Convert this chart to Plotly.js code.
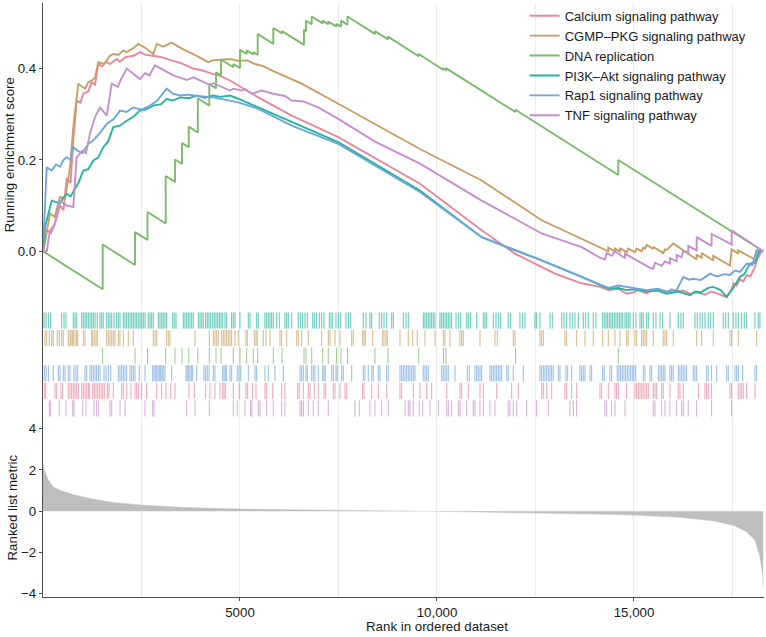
<!DOCTYPE html>
<html>
<head>
<meta charset="utf-8">
<script src="https://cdn.plot.ly/plotly-3.0.1.min.js"></script>
<style>html,body{margin:0;padding:0;background:#fff;}#chart{width:766px;height:637px;}</style>
</head>
<body>
<div id="chart"></div>
<script>
// ---------------- DATA ----------------
const pathways = ['Calcium signaling pathway', 'CGMP\u2013PKG signaling pathway', 'DNA replication',
  'PI3K\u2013Akt signaling pathway', 'Rap1 signaling pathway', 'TNF signaling pathway'];

// running enrichment score: [rank, score]
const calciumES = [[0,0],[51,0.02],[94,0.046],[200,0.04],[300,0.06],[431,0.10],[520,0.09],[601,0.16],[700,0.15],[769,0.243],[855,0.33],[950,0.325],[1023,0.345],[1150,0.35],[1236,0.37],[1320,0.365],[1404,0.41],[1500,0.405],[1600,0.415],[1700,0.41],[1870,0.421],[1950,0.415],[2100,0.425],[2300,0.428],[2462,0.436],[2600,0.43],[2792,0.428],[3000,0.425],[3307,0.417],[3500,0.412],[3815,0.40],[4000,0.397],[4322,0.388],[4500,0.384],[4746,0.374],[5043,0.359],[5464,0.337],[6312,0.297],[7495,0.25],[9568,0.148],[11134,0.046],[11979,-0.005],[12995,-0.049],[13672,-0.07],[14137,-0.078],[14348,-0.085],[14600,-0.082],[14814,-0.093],[15000,-0.09],[15100,-0.085],[15322,-0.092],[15450,-0.085],[15600,-0.086],[15830,-0.09],[15950,-0.083],[16083,-0.088],[16250,-0.086],[16421,-0.093],[16600,-0.09],[16800,-0.095],[16971,-0.088],[17100,-0.092],[17352,-0.1],[17479,-0.083],[17520,-0.07],[17600,-0.075],[17690,-0.062],[17774,-0.066],[17860,-0.052],[17950,-0.055],[18070,-0.035],[18114,-0.02],[18241,0.0],[18280,0]];
const cgmpES = [[0,0],[51,0.02],[178,0.083],[300,0.075],[431,0.119],[560,0.115],[685,0.184],[769,0.272],[896,0.367],[1066,0.356],[1150,0.37],[1236,0.374],[1320,0.38],[1404,0.414],[1550,0.41],[1700,0.428],[1784,0.432],[1911,0.43],[2038,0.44],[2124,0.436],[2300,0.445],[2419,0.454],[2600,0.445],[2799,0.432],[2886,0.454],[3050,0.448],[3266,0.457],[3500,0.445],[3901,0.428],[4195,0.414],[4300,0.418],[4500,0.42],[4746,0.421],[4957,0.417],[5181,0.418],[5381,0.41],[5600,0.405],[5804,0.396],[6566,0.367],[7495,0.323],[9568,0.224],[11134,0.155],[12657,0.068],[14348,0.0],[14348,0.008],[14517,0.0],[14517,0.006],[14644,0.0],[14644,0.007],[14814,-0.002],[14855,0.006],[15025,-0.002],[15068,0.006],[15195,0.0],[15236,0.008],[15279,0.006],[15322,0.014],[15489,0.005],[15489,0.01],[15743,-0.004],[15786,0.004],[15830,0.003],[15997,0.017],[16591,-0.018],[16591,-0.008],[16718,-0.014],[16718,-0.004],[17012,-0.02],[17012,-0.01],[17436,-0.031],[17479,0.004],[17647,-0.005],[17647,0.002],[18114,-0.02],[18114,0.0],[18280,0]];
const dnaES = [[0,0],[1515,-0.083],[1515,0.015],[2335,-0.030],[2335,0.042],[2652,0.025],[2652,0.086],[3114,0.061],[3114,0.165],[3350,0.152],[3350,0.201],[3528,0.191],[3528,0.237],[3700,0.228],[3700,0.273],[3929,0.260],[3929,0.335],[4221,0.319],[4221,0.366],[4391,0.357],[4391,0.392],[4518,0.385],[4518,0.420],[4830,0.403],[4830,0.410],[5000,0.401],[5000,0.441],[5170,0.432],[5170,0.440],[5337,0.431],[5337,0.436],[5449,0.430],[5449,0.476],[5845,0.454],[5845,0.489],[6066,0.477],[6066,0.482],[6624,0.452],[6624,0.485],[6675,0.482],[6675,0.505],[6820,0.497],[6820,0.514],[7099,0.499],[7099,0.505],[7241,0.497],[7241,0.503],[7449,0.492],[7449,0.498],[7563,0.492],[7563,0.505],[7728,0.496],[7728,0.514],[8426,0.476],[8426,0.482],[8756,0.464],[8756,0.470],[9535,0.427],[9535,0.432],[10165,0.397],[10165,0.400],[10228,0.397],[10228,0.401],[11992,0.305],[11992,0.310],[14601,0.167],[14601,0.200],[18280,0]];
const pi3kES = [[0,0],[51,0.053],[221,0.111],[431,0.105],[520,0.118],[601,0.126],[700,0.12],[769,0.13],[900,0.15],[1023,0.177],[1150,0.18],[1277,0.199],[1400,0.205],[1530,0.228],[1650,0.24],[1784,0.272],[1950,0.275],[2124,0.286],[2300,0.295],[2462,0.308],[2600,0.31],[2799,0.319],[3000,0.322],[3139,0.334],[3300,0.33],[3477,0.337],[3700,0.335],[3901,0.341],[4100,0.336],[4322,0.341],[4500,0.338],[4746,0.341],[4957,0.334],[5464,0.315],[6312,0.283],[7495,0.239],[9568,0.133],[11134,0.031],[12657,-0.02],[13672,-0.056],[14348,-0.082],[14600,-0.08],[14800,-0.085],[15050,-0.083],[15322,-0.088],[15600,-0.086],[15830,-0.093],[16124,-0.088],[16421,-0.096],[16550,-0.088],[16700,-0.09],[16885,-0.08],[17012,-0.078],[17200,-0.085],[17352,-0.1],[17520,-0.08],[17690,-0.056],[17800,-0.05],[17944,-0.027],[18070,-0.025],[18197,0.002],[18280,0]];
const rap1ES = [[0,0],[94,0.184],[221,0.177],[330,0.19],[431,0.185],[520,0.2],[601,0.206],[700,0.2],[769,0.228],[880,0.22],[1000,0.215],[1150,0.235],[1277,0.243],[1450,0.26],[1617,0.279],[1800,0.29],[1954,0.308],[2120,0.305],[2292,0.315],[2500,0.31],[2700,0.318],[2900,0.33],[3139,0.356],[3300,0.345],[3477,0.341],[3700,0.343],[3901,0.34],[4100,0.338],[4322,0.337],[4746,0.33],[4957,0.326],[5464,0.312],[6312,0.275],[7495,0.235],[9568,0.13],[11134,0.031],[12657,-0.02],[13672,-0.056],[14348,-0.08],[14600,-0.075],[14814,-0.078],[15050,-0.08],[15322,-0.085],[15600,-0.082],[15830,-0.088],[16083,-0.085],[16251,-0.056],[16400,-0.062],[16500,-0.06],[16700,-0.063],[16929,-0.049],[17100,-0.055],[17300,-0.05],[17436,-0.052],[17563,-0.042],[17690,-0.045],[17860,-0.027],[18000,-0.03],[18114,0.002],[18280,0]];
const tnfES = [[0,0],[94,0.0],[178,0.046],[300,0.06],[431,0.111],[600,0.10],[769,0.097],[855,0.206],[1000,0.22],[1091,0.215],[1200,0.26],[1320,0.294],[1447,0.315],[1617,0.297],[1744,0.367],[1900,0.36],[1954,0.372],[2124,0.40],[2462,0.377],[2589,0.39],[2700,0.385],[2843,0.407],[3307,0.385],[3647,0.375],[3815,0.381],[4221,0.365],[4322,0.368],[4746,0.352],[4830,0.356],[5043,0.352],[5127,0.355],[5300,0.345],[5551,0.352],[5845,0.345],[6142,0.34],[6312,0.33],[6607,0.328],[6987,0.315],[7495,0.29],[8426,0.24],[9568,0.192],[11134,0.111],[12657,0.039],[13672,0.009],[14137,-0.014],[14264,-0.018],[14307,-0.004],[14434,-0.01],[14517,0.0],[14772,-0.015],[14772,-0.005],[15406,-0.036],[15489,-0.038],[15533,-0.025],[15703,-0.032],[15786,-0.022],[15913,-0.027],[15913,-0.015],[16083,-0.022],[16083,-0.008],[16210,-0.013],[16251,0.002],[16378,-0.003],[16378,0.012],[16591,0.002],[16591,0.031],[16971,0.012],[16971,0.038],[17479,0.015],[17479,0.046],[18280,0]];

// gene-set hit positions (rank)
const pi3kHits = [25,76,135,195,475,533,584,769,812,855,982,1023,1066,1109,1150,1193,1236,1277,1320,1378,1447,1490,1530,1617,1657,1700,1744,1802,1870,1911,1954,2038,2081,2124,2165,2208,2251,2292,2335,2378,2419,2462,2505,2546,2589,2672,2716,2759,2799,2926,2969,3013,3053,3096,3139,3292,3332,3376,3561,3604,3647,3688,3731,3774,3815,3942,3985,4028,4068,4129,4170,4213,4256,4307,4348,4391,4434,4475,4518,4561,4619,4662,4789,4830,4873,5000,5211,5254,5424,5464,5634,5677,5718,5761,5804,5845,5931,5997,6142,6185,6226,6312,6480,6540,6591,6650,6708,6845,6886,6946,7013,7073,7132,7266,7309,7353,7436,7495,7556,7690,7749,7810,8129,8198,8299,8343,8535,8596,8655,8723,8850,8891,9145,9213,9271,9652,9695,9738,9779,9822,9865,9906,9949,10076,10119,10160,10203,10246,10287,10330,10373,10482,10541,10601,10754,10795,10855,11007,11175,11218,11261,11429,11497,11556,11616,11809,11870,12106,12175,12233,12487,12530,12614,12868,12926,13165,13223,13291,13375,13434,13502,13586,13713,13774,13840,13966,14035,14205,14246,14289,14332,14373,14416,14459,14500,14543,14586,14627,14670,14713,14772,14814,14855,14898,14982,15050,15152,15195,15236,15322,15363,15489,15558,15660,15728,15913,16124,16192,16251,16548,16607,16675,16733,16802,16885,16946,17012,17266,17327,17393,17520,17588,17647,17733,17799,17860,18070,18154,18197];
const cgmpHits = [51,94,160,221,261,363,414,475,515,642,685,711,744,769,812,855,881,1023,1066,1236,1261,1302,1345,1378,1617,1657,1700,1744,1784,1827,1911,1954,2038,2165,2292,2799,2843,2886,3139,3180,3223,3858,4221,4322,4365,4409,4449,4535,4576,4619,4662,4703,4746,4789,4873,4957,5152,5185,5363,5406,5439,5591,5660,5761,6015,6058,6185,6439,6480,6566,6733,7073,7241,7284,7411,7538,7835,7876,8114,8147,8180,8368,8622,8655,8705,8738,9061,9271,9383,9500,9695,9949,10160,10203,10330,10584,10627,10667,11091,11472,11530,11936,11979,12614,12657,12698,13248,13291,13545,13756,13966,14205,14348,14517,14644,14814,14855,15025,15068,15195,15236,15279,15322,15489,15743,15786,15830,15997,16591,16718,17012,17436,17479,17647,18114];
const dnaHits = [1515,2335,2652,3114,3350,3528,3700,3929,4221,4391,4518,4830,5000,5170,5337,5449,5845,6066,6624,6675,6820,7099,7241,7449,7563,7728,8426,8756,9535,10165,10228,11992,14601];
const rap1Hits = [33,76,135,261,388,431,515,558,642,685,787,838,881,1066,1109,1193,1236,1277,1320,1363,1404,1447,1548,1599,1657,1718,1911,1954,1997,2038,2081,2124,2208,2251,2292,2335,2444,2589,2784,2817,2850,2886,2919,2952,2987,3020,3053,3096,3266,3629,3662,3698,3731,3764,3799,3901,4086,4129,4170,4213,4322,4365,4561,4594,4627,4662,4746,4789,4931,4974,5018,5211,5381,5424,5634,5718,5888,6099,6523,6566,6607,6675,6708,6820,6860,6903,6987,7099,7132,7165,7327,7368,7436,7469,7581,7622,7835,8129,8172,8256,8343,8383,8510,8553,8723,8764,9061,9104,9145,9188,9231,9271,9314,9357,9398,9441,9652,9695,9738,9779,10119,10160,10203,10246,10287,10457,10769,10820,10964,11007,11048,11091,11134,11345,11388,11429,11472,11515,11556,11599,11642,11769,11809,11936,12190,12614,12657,12698,12741,12784,12825,12868,12911,12952,13078,13121,13274,13317,13418,13629,13672,13713,13756,13883,13926,14205,14246,14390,14434,14576,14619,14662,14703,14746,14789,14830,14873,14916,14956,14999,15043,15236,15279,15406,15449,15617,15660,15703,15743,15786,15913,15956,15997,16124,16167,16210,16251,16294,16337,16505,16548,16591,16845,16885,16971,17099,17352,17393,17563,17606,17647,17758,18070,18114];
const calciumHits = [33,69,305,348,457,500,642,685,728,769,812,855,896,982,1023,1066,1109,1150,1175,1261,1302,1345,1388,1429,1472,1515,1556,1632,1675,1784,1997,2038,2124,2233,2335,2378,2419,2505,2632,2886,3013,3122,3241,3350,3705,3840,4129,4238,4365,4492,4561,4594,4627,4830,4982,5152,5195,5322,5406,5634,5677,5830,6058,6142,6464,6505,6607,6733,6776,6886,6987,7132,7175,7368,7411,7538,7665,7708,8114,8147,8343,8510,8723,9061,9104,9398,9568,9738,9865,10246,10584,10627,10795,11091,11175,11515,11896,12063,12657,12698,12784,12911,13248,13291,13418,13545,14137,14180,14348,14517,14560,14601,14814,15025,15068,15109,15152,15195,15236,15279,15322,15363,15489,15533,15576,15703,15743,15913,16124,16167,16251,16632,16802,16845,16885,16971,17436,17479,17647,17690,17733,17774,17860,18070];
const tnfHits = [160,195,414,584,754,787,1008,1091,1294,1363,1404,1700,1744,1954,2081,2589,2784,2817,3647,3858,4221,4830,4931,5127,5271,5304,5464,5508,5677,5845,6058,6142,6523,6566,6607,6733,6860,6987,7241,7919,8028,8299,8426,8596,8764,9188,9271,9314,9398,9550,9637,9822,10033,10246,10287,10373,10541,10584,10754,10921,10964,11091,11175,11345,11472,11809,11852,11936,12023,12276,12530,12825,13375,13459,13545,14264,14307,14434,14517,14772,15489,15533,15703,15786,15913,16083,16210,16251,16378,16591,16971,17479];

// ranked list metric: [rank, value]
const metric = [[0,2.3],[20,2.07],[135,1.5],[261,1.17],[431,1.01],[769,0.8],[1277,0.58],[1784,0.42],[2546,0.29],[3561,0.18],[5000,0.1],[6523,0.05],[7538,0.03],[8500,0.015],[9300,0.006],[9350,0],[9900,0],[9950,-0.01],[11000,-0.04],[12530,-0.08],[14000,-0.14],[14982,-0.19],[16167,-0.3],[17012,-0.47],[17520,-0.68],[17860,-1.0],[18070,-1.4],[18197,-2.2],[18264,-3.0],[18280,-3.65]];

const xTickVals = [5000, 10000, 15000];
const xTickText = ['5000', '10,000', '15,000'];
const xMinorVals = [2500, 7500, 12500, 17500];
const xTitle = 'Rank in ordered dataset';

// ---------------- STYLE ----------------
const colors = ['#E8879C', '#C6A061', '#7CB96A', '#27B5A0', '#6EA6DB', '#C490CB'];
const esSeries = [calciumES, cgmpES, dnaES, pi3kES, rap1ES, tnfES];
const hitSeries = [calciumHits, cgmpHits, dnaHits, pi3kHits, rap1Hits, tnfHits];
// row order in the hit panel, top to bottom (index into pathways)
const rowOrder = [3, 1, 2, 4, 0, 5];

const traces = [];
esSeries.forEach((s, i) => {
  traces.push({
    type: 'scatter', mode: 'lines', name: pathways[i],
    x: s.map(p => p[0]), y: s.map(p => p[1]),
    xaxis: 'x', yaxis: 'y',
    line: {color: colors[i], width: 1.9},
    hoverinfo: 'skip'
  });
});

rowOrder.forEach((pi, k) => {
  const top = -(0.34 + k), bottom = top - 0.92;
  const xs = [], ys = [];
  hitSeries[pi].forEach(r => { xs.push(r, r, null); ys.push(top, bottom, null); });
  traces.push({
    type: 'scatter', mode: 'lines', x: xs, y: ys, xaxis: 'x', yaxis: 'y2',
    line: {color: colors[pi], width: 1}, opacity: 0.75,
    showlegend: false, hoverinfo: 'skip'
  });
});

traces.push({
  type: 'scatter', mode: 'lines', x: metric.map(p => p[0]), y: metric.map(p => p[1]),
  xaxis: 'x', yaxis: 'y3', fill: 'tozeroy', fillcolor: '#BEBEBE',
  line: {color: '#BEBEBE', width: 0.5}, showlegend: false, hoverinfo: 'skip'
});

const axisCol = '#4D4D4D';
const txtCol = '#1A1A1A';
const fontFam = 'Liberation Sans, Arial, sans-serif';

const layout = {
  width: 766, height: 637,
  margin: {l: 43, r: 2, t: 2, b: 40, pad: 0},
  paper_bgcolor: '#FFFFFF', plot_bgcolor: '#FFFFFF',
  font: {family: fontFam, size: 13.3, color: txtCol},
  showlegend: true,
  legend: {x: 0.668, y: 1.002, xanchor: 'left', yanchor: 'top', bgcolor: 'rgba(0,0,0,0)',
    font: {size: 13, color: txtCol}, tracegroupgap: 0},
  xaxis: {
    range: [0, 18300], anchor: 'y3', showline: true, linecolor: axisCol, linewidth: 1.2,
    ticks: 'outside', ticklen: 3, tickcolor: axisCol, tickmode: 'array',
    tickvals: xTickVals, ticktext: xTickText, tickfont: {size: 13.3, color: txtCol},
    showgrid: true, gridcolor: '#EBEBEB', gridwidth: 1, zeroline: false,
    minor: {tickmode: 'array', tickvals: xMinorVals, showgrid: true, gridcolor: '#EBEBEB', gridwidth: 1, ticks: ''}
  },
  yaxis: {
    domain: [0.48908, 1], anchor: 'x', range: [-0.1208, 0.5436],
    tickmode: 'array', tickvals: [0, 0.2, 0.4], ticktext: ['0.0', '0.2', '0.4'],
    showline: true, linecolor: axisCol, linewidth: 1.2, ticks: 'outside', ticklen: 3, tickcolor: axisCol,
    showgrid: false, zeroline: false, tickfont: {size: 13.3, color: txtCol},
    title: {text: 'Running enrichment score', font: {size: 13.3, color: txtCol}, standoff: 0}
  },
  yaxis2: {
    domain: [0.30084, 0.48908], anchor: 'x', range: [-6.36, 0],
    showline: true, linecolor: axisCol, linewidth: 1.2, ticks: '', showticklabels: false,
    showgrid: false, zeroline: false
  },
  yaxis3: {
    domain: [0, 0.30084], anchor: 'x', range: [-4.16, 4.5],
    tickmode: 'array', tickvals: [-4, -2, 0, 2, 4],
    showline: true, linecolor: axisCol, linewidth: 1.2, ticks: 'outside', ticklen: 3, tickcolor: axisCol,
    showgrid: false, zeroline: false, tickfont: {size: 13.3, color: txtCol},
    title: {text: 'Ranked list metric', font: {size: 13.3, color: txtCol}, standoff: 0}
  },
  annotations: [{
    text: xTitle, xref: 'paper', yref: 'paper', x: 0.5465, y: -0.0504,
    xanchor: 'center', yanchor: 'middle', showarrow: false,
    font: {size: 13.3, color: txtCol}
  }]
};

Plotly.newPlot('chart', traces, layout, {displayModeBar: false, staticPlot: true});
</script>
</body>
</html>
